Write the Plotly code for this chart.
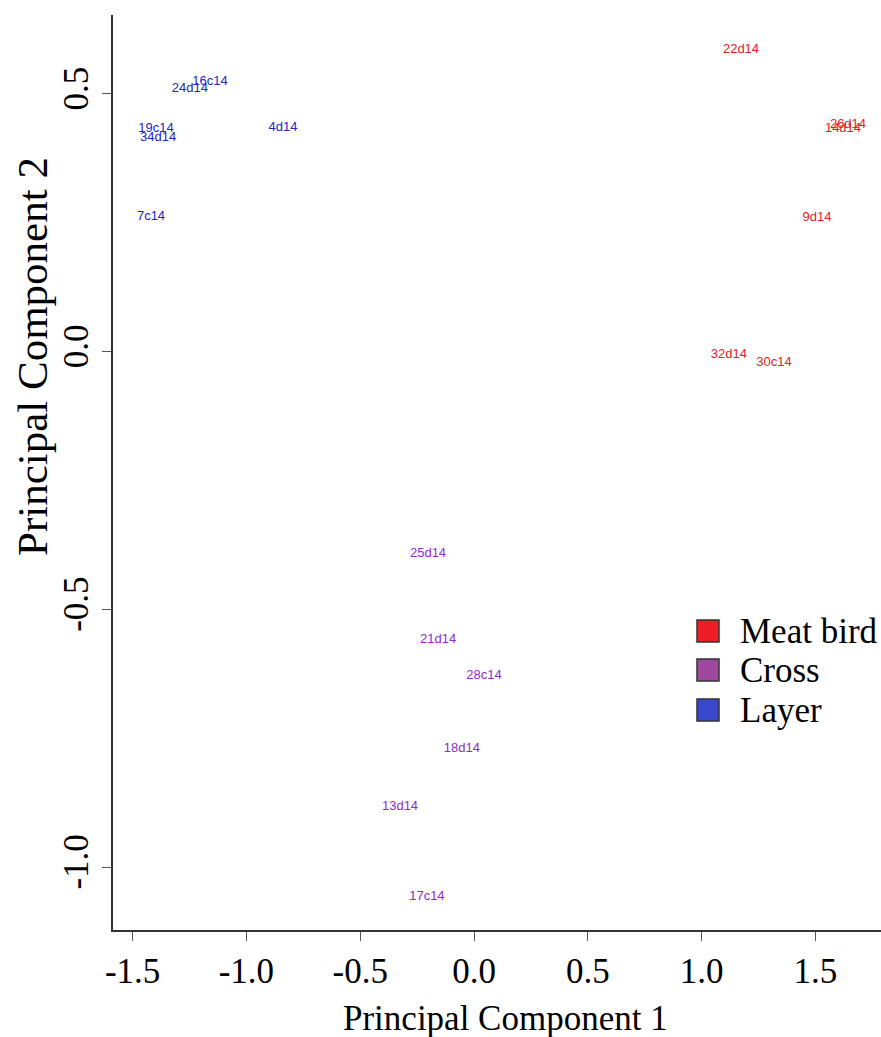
import plotly.graph_objects as go

# Data
meat_labels = ["22d14", "26d14", "14d14", "9d14", "32d14", "30c14"]
meat_pc1 = [1.173, 1.643, 1.621, 1.507, 1.120, 1.318]
meat_pc2 = [0.585, 0.440, 0.432, 0.260, -0.006, -0.021]

cross_labels = ["25d14", "21d14", "28c14", "18d14", "13d14", "17c14"]
cross_pc1 = [-0.202, -0.158, 0.044, -0.053, -0.325, -0.207]
cross_pc2 = [-0.393, -0.558, -0.628, -0.771, -0.882, -1.058]

layer_labels = ["16c14", "24d14", "4d14", "19c14", "34d14", "7c14"]
layer_pc1 = [-1.160, -1.248, -0.839, -1.397, -1.388, -1.419]
layer_pc2 = [0.523, 0.510, 0.434, 0.432, 0.415, 0.262]

groups = ["Meat bird", "Cross", "Layer"]
text_colors = ["#E0202A", "#8E2AD0", "#2424C0"]
legend_colors = ["#EE1C25", "#9E489E", "#3B48CC"]

x_ticks = [-1.5, -1.0, -0.5, 0.0, 0.5, 1.0, 1.5]
y_ticks = [-1.0, -0.5, 0.0, 0.5]

fig = go.Figure()
series = [(meat_pc1, meat_pc2, meat_labels), (cross_pc1, cross_pc2, cross_labels),
          (layer_pc1, layer_pc2, layer_labels)]
for (xs, ys, labs), col in zip(series, text_colors):
    fig.add_trace(go.Scatter(x=xs, y=ys, text=labs, mode="text",
                             textposition="middle center",
                             textfont=dict(family="Liberation Sans", size=13, color=col),
                             showlegend=False, hoverinfo="skip"))

serif = "Liberation Serif"

# plot-area geometry in pixels (for paper-coordinate placement of legend/titles)
L, R, T, B = 113, 881, 15, 930
W, H = R - L, B - T


def px(xp):
    return (xp - L) / W


def py(yp):
    return (B - yp) / H


shapes = []
annotations = []
legend_rows = [631, 670, 710]
for name, col, yc in zip(groups, legend_colors, legend_rows):
    shapes.append(dict(type="rect", xref="paper", yref="paper",
                       x0=px(697), x1=px(719), y0=py(yc + 11), y1=py(yc - 11),
                       fillcolor=col, line=dict(color="#333333", width=1.5)))
    annotations.append(dict(text=name, xref="paper", yref="paper",
                            x=px(738), y=py(yc), xanchor="left", yanchor="middle",
                            showarrow=False,
                            font=dict(family=serif, size=35, color="black")))

annotations.append(dict(text="Principal Component 2", xref="paper", yref="paper",
                        x=px(32), y=py(357), xanchor="center", yanchor="middle",
                        textangle=-90, showarrow=False,
                        font=dict(family=serif, size=43, color="black")))
annotations.append(dict(text="Principal Component 1", xref="paper", yref="paper",
                        x=px(505), y=py(1018), xanchor="center", yanchor="middle",
                        showarrow=False,
                        font=dict(family=serif, size=35, color="black")))

fig.update_layout(
    width=881, height=1037,
    margin=dict(l=L, r=881 - R, t=T, b=1037 - B),
    paper_bgcolor="white", plot_bgcolor="white",
    showlegend=False,
    shapes=shapes,
    annotations=annotations,
    xaxis=dict(range=[-1.586, 1.788], tickvals=x_ticks,
               ticktext=[f"{v:.1f}" for v in x_ticks],
               showgrid=False, zeroline=False, showline=True,
               linecolor="#333333", linewidth=1.5,
               ticks="outside", ticklen=9, tickcolor="#555555", tickwidth=1,
               tickfont=dict(family=serif, size=35, color="black")),
    yaxis=dict(range=[-1.122, 0.653], tickvals=y_ticks,
               ticktext=[f"{v:.1f}" for v in y_ticks],
               showgrid=False, zeroline=False, showline=True,
               linecolor="#333333", linewidth=1.5,
               ticks="outside", ticklen=9, tickcolor="#555555", tickwidth=1,
               tickangle=-90,
               tickfont=dict(family=serif, size=35, color="black")),
)

fig.write_html("out.html")
